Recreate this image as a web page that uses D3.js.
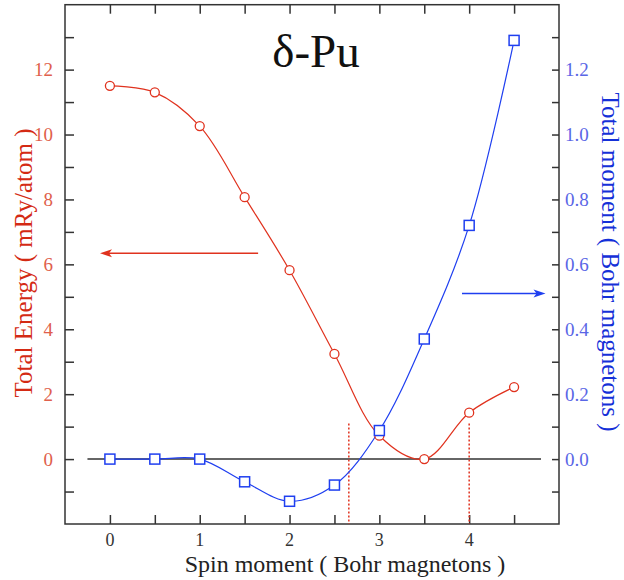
<!DOCTYPE html>
<html><head><meta charset="utf-8">
<script src="https://cdn.jsdelivr.net/npm/d3@7"></script>
<style>body{margin:0;background:#fff}svg{display:block}</style>
</head><body>
<script>
const spin = [0, 0.5, 1, 1.5, 2, 2.5, 3, 3.5, 4, 4.5];
const energy = [11.5, 11.3, 10.26, 8.07, 5.82, 3.24, 0.72, 0.0, 1.43, 2.22];
const moment = [0.0, 0.0, 0.0, -0.07, -0.13, -0.08, 0.088, 0.37, 0.72, 1.29];
const xTickLabels = [0, 1, 2, 3, 4];
const leftTickLabels = [0, 2, 4, 6, 8, 10, 12];
const rightTickLabels = [0.0, 0.2, 0.4, 0.6, 0.8, 1.0, 1.2];
const dottedLines = [{x: 2.66, top: 1.1}, {x: 4.0, top: 1.1}];
const zeroLine = [-0.25, 4.8];
const redArrow = {y: 6.34, from: 1.65, to: -0.11};
const blueArrow = {y: 0.51, from: 3.92, to: 4.85};

const FONT = "'Liberation Serif'";
const W = 624, H = 580;
const L = 65, R = 559, T = 4.7, B = 524;
const svg = d3.select("body").append("svg").attr("width", W).attr("height", H)
  .attr("font-family", FONT);
const x = d3.scaleLinear().domain([-0.5, 5.0]).range([L, R]);
const yL = d3.scaleLinear().domain([-2, 14]).range([B, T]);
const yR = d3.scaleLinear().domain([-0.2, 1.4]).range([B, T]);

const red = "#e0321e", redLab = "#e0604c", blue = "#1f3ff0", blueLab = "#5a66e6";

// frame
svg.append("rect").attr("x", L).attr("y", T).attr("width", R - L).attr("height", B - T)
  .attr("fill", "none").attr("stroke", "#333").attr("stroke-width", 1.5);

const tickLen = 9;
const xTicks = d3.range(0, 4.51, 0.5);
const gxb = svg.append("g").attr("transform", `translate(0,${B})`)
  .call(d3.axisBottom(x).tickValues(xTicks).tickSizeInner(-tickLen).tickSizeOuter(0).tickFormat(""));
const gxt = svg.append("g").attr("transform", `translate(0,${T})`)
  .call(d3.axisTop(x).tickValues(xTicks).tickSizeInner(-tickLen).tickSizeOuter(0).tickFormat(""));
const gl = svg.append("g").attr("transform", `translate(${L},0)`)
  .call(d3.axisLeft(yL).tickValues(d3.range(-1, 13.1, 1)).tickSizeInner(-tickLen).tickSizeOuter(0).tickFormat(""));
const gr = svg.append("g").attr("transform", `translate(${R},0)`)
  .call(d3.axisRight(yR).tickValues(d3.range(-0.1, 1.31, 0.1)).tickSizeInner(-7).tickSizeOuter(0).tickFormat(""));
[gxb, gxt, gl, gr].forEach(g => {
  g.select(".domain").remove();
  g.attr("font-family", null).attr("font-size", null);
  g.selectAll(".tick line").attr("stroke", "#333").attr("stroke-width", 1.5);
});

// tick labels
svg.append("g").selectAll("text").data(xTickLabels).join("text")
  .attr("font-family", FONT)
  .attr("x", d => x(d)).attr("y", 546).attr("text-anchor", "middle")
  .attr("font-size", 18).attr("fill", "#333").text(d => d);
svg.append("g").selectAll("text").data(leftTickLabels).join("text")
  .attr("font-family", FONT)
  .attr("x", 53).attr("y", d => yL(d)).attr("dy", "0.34em").attr("text-anchor", "end")
  .attr("font-size", 19).attr("fill", redLab).text(d => d);
svg.append("g").selectAll("text").data(rightTickLabels).join("text")
  .attr("font-family", FONT)
  .attr("x", 565).attr("y", d => yR(d)).attr("dy", "0.34em").attr("text-anchor", "start")
  .attr("font-size", 19).attr("fill", blueLab).text(d => d.toFixed(1));

// zero line
svg.append("line").attr("x1", x(zeroLine[0])).attr("x2", x(zeroLine[1]))
  .attr("y1", yL(0)).attr("y2", yL(0)).attr("stroke", "#333").attr("stroke-width", 1.5);

// dotted lines
svg.append("g").selectAll("line").data(dottedLines).join("line")
  .attr("x1", d => x(d.x)).attr("x2", d => x(d.x))
  .attr("y1", d => yL(d.top)).attr("y2", B)
  .attr("stroke", red).attr("stroke-width", 1.5).attr("stroke-dasharray", "2,2");

// curves
const lineE = d3.line().x(d => x(d[0])).y(d => yL(d[1])).curve(d3.curveCatmullRom.alpha(0.5));
const lineM = d3.line().x(d => x(d[0])).y(d => yR(d[1])).curve(d3.curveCatmullRom.alpha(0.5));
const eData = spin.map((s, i) => [s, energy[i]]);
const mData = spin.map((s, i) => [s, moment[i]]);
svg.append("path").attr("d", lineE(eData)).attr("fill", "none").attr("stroke", red).attr("stroke-width", 1.2);
svg.append("path").attr("d", lineM(mData)).attr("fill", "none").attr("stroke", blue).attr("stroke-width", 1.2);

svg.append("g").selectAll("circle").data(eData).join("circle")
  .attr("cx", d => x(d[0])).attr("cy", d => yL(d[1])).attr("r", 4.5)
  .attr("fill", "#fff").attr("stroke", red).attr("stroke-width", 1.3);
const sq = 10;
svg.append("g").selectAll("rect").data(mData).join("rect")
  .attr("x", d => x(d[0]) - sq / 2).attr("y", d => yR(d[1]) - sq / 2)
  .attr("width", sq).attr("height", sq)
  .attr("fill", "#fff").attr("stroke", blue).attr("stroke-width", 1.5);

// arrows
function arrow(x1, x2, y, color) {
  const dir = Math.sign(x2 - x1);
  svg.append("line").attr("x1", x1).attr("x2", x2 - dir * 6).attr("y1", y).attr("y2", y)
    .attr("stroke", color).attr("stroke-width", 1.5);
  svg.append("path").attr("d", `M${x2},${y} L${x2 - dir * 12},${y - 4} L${x2 - dir * 9},${y} L${x2 - dir * 12},${y + 4} Z`)
    .attr("fill", color);
}
arrow(x(redArrow.from), x(redArrow.to), yL(redArrow.y), red);
arrow(x(blueArrow.from), x(blueArrow.to), yR(blueArrow.y), blue);

// title
svg.append("text").attr("font-family", FONT).attr("x", 316).attr("y", 67).attr("text-anchor", "middle")
  .attr("font-size", 47).attr("fill", "#111").text("δ-Pu");

// axis titles
svg.append("text").attr("font-family", FONT).attr("x", 345).attr("y", 572).attr("text-anchor", "middle")
  .attr("font-size", 24).attr("fill", "#222").text("Spin moment ( Bohr magnetons )");
svg.append("text").attr("font-family", FONT).attr("transform", "translate(32,263) rotate(-90)").attr("text-anchor", "middle")
  .attr("font-size", 25).attr("fill", "#d42a14").text("Total Energy ( mRy/atom )");
svg.append("text").attr("font-family", FONT).attr("transform", "translate(602,262) rotate(90)").attr("text-anchor", "middle")
  .attr("font-size", 25).attr("fill", "#1530d8").text("Total moment ( Bohr magnetons )");
</script>
</body></html>
